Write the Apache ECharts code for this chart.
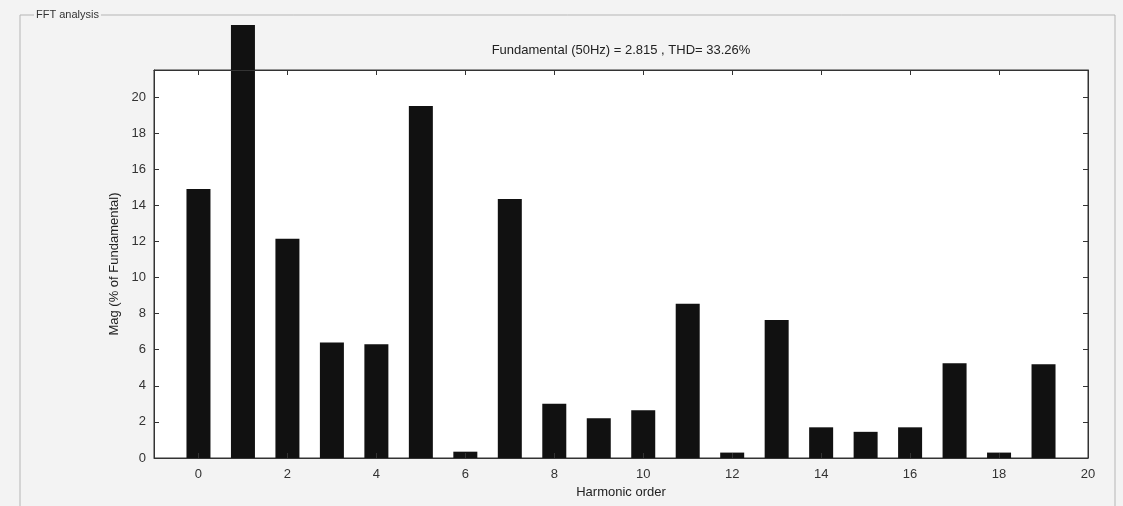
<!DOCTYPE html>
<html>
<head>
<meta charset="utf-8">
<script src="https://cdn.jsdelivr.net/npm/echarts@6/dist/echarts.min.js"></script>
<style>
  html, body { margin: 0; padding: 0; background: #f3f3f3; }
  #chart { width: 1123px; height: 506px; }
</style>
</head>
<body>
<div id="chart"></div>
<script>
// harmonic order 0..19 and magnitude in % of fundamental
const harmonics = [0, 1, 2, 3, 4, 5, 6, 7, 8, 9, 10, 11, 12, 13, 14, 15, 16, 17, 18, 19];
const magnitude = [14.9, 24, 12.15, 6.4, 6.3, 19.5, 0.35, 14.35, 3.0, 2.2, 2.65, 8.55, 0.3, 7.65, 1.7, 1.45, 1.7, 5.25, 0.3, 5.2];
const xTicks = [0, 2, 4, 6, 8, 10, 12, 14, 16, 18, 20];
const yTicks = [0, 2, 4, 6, 8, 10, 12, 14, 16, 18, 20];
const titleText = 'Fundamental (50Hz) = 2.815 , THD= 33.26%';

const chart = echarts.init(document.getElementById('chart'));
const font = 'Liberation Sans, Arial, sans-serif';

const tickStyle = { show: true, inside: true, length: 5, lineStyle: { color: '#333' } };
const lineStyle = { show: true, onZero: false, lineStyle: { color: '#333' } };

const option = {
    backgroundColor: '#f3f3f3',
    animation: false,
    grid: {
        left: 154, right: 35, top: 70, bottom: 48,
        show: true, backgroundColor: '#fff', borderColor: '#333', borderWidth: 1
    },
    graphic: [
        { type: 'rect', shape: { x: 20, y: 15, width: 1095, height: 500 },
          style: { fill: 'none', stroke: '#b5b5b5', lineWidth: 1 }, z: 0 },
        { type: 'text', x: 34, y: 9,
          style: { text: 'FFT analysis', font: '11px ' + font, fill: '#333', backgroundColor: '#f3f3f3', padding: [0, 2] }, z: 1 },
        { type: 'text', x: 621, y: 50,
          style: { text: titleText, font: '13px ' + font, fill: '#222', align: 'center', verticalAlign: 'middle' }, z: 5 }
    ],
    xAxis: [
        {
            type: 'value', min: -1, max: 20, position: 'bottom', z: 5,
            name: 'Harmonic order', nameLocation: 'middle', nameGap: 28,
            nameTextStyle: { fontFamily: font, fontSize: 13, color: '#222' },
            axisLine: lineStyle,
            axisTick: Object.assign({}, tickStyle, { customValues: xTicks }),
            axisLabel: { customValues: xTicks, fontFamily: font, fontSize: 13, color: '#333', margin: 10 },
            splitLine: { show: false }
        },
        {
            type: 'value', min: -1, max: 20, position: 'top', z: 5,
            axisLine: lineStyle,
            axisTick: Object.assign({}, tickStyle, { customValues: xTicks }),
            axisLabel: { show: false },
            splitLine: { show: false }
        }
    ],
    yAxis: [
        {
            type: 'value', min: 0, max: 21.5, position: 'left',
            name: 'Mag (% of Fundamental)', nameLocation: 'middle', nameGap: 32, nameRotate: 90,
            nameTextStyle: { fontFamily: font, fontSize: 13, color: '#222' },
            axisLine: lineStyle,
            axisTick: Object.assign({}, tickStyle, { customValues: yTicks }),
            axisLabel: { customValues: yTicks, fontFamily: font, fontSize: 13, color: '#333', margin: 8 },
            splitLine: { show: false }
        },
        {
            type: 'value', min: 0, max: 21.5, position: 'right',
            axisLine: lineStyle,
            axisTick: Object.assign({}, tickStyle, { customValues: yTicks }),
            axisLabel: { show: false },
            splitLine: { show: false }
        }
    ],
    series: [{
        type: 'bar',
        xAxisIndex: 0, yAxisIndex: 0,
        data: harmonics.map((h, i) => [h, magnitude[i]]),
        barWidth: 24,
        clip: false,
        itemStyle: { color: '#111' },
        z: 1
    }]
};
chart.setOption(option);
</script>
</body>
</html>
